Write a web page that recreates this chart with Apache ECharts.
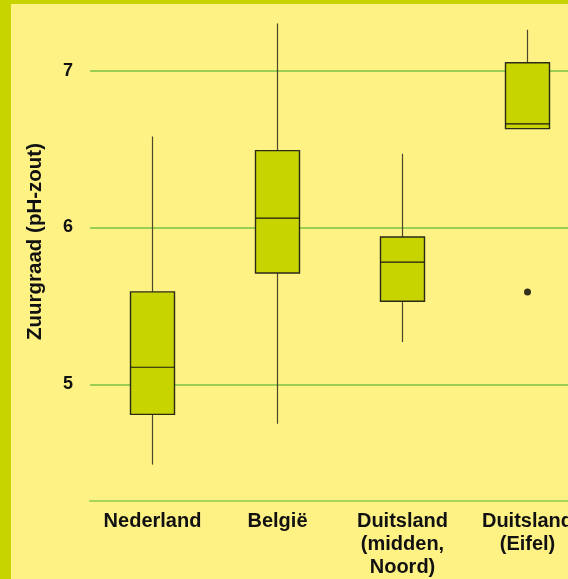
<!DOCTYPE html>
<html>
<head>
<meta charset="utf-8">
<script src="https://cdn.jsdelivr.net/npm/echarts@6/dist/echarts.min.js"></script>
<style>
  html, body { margin: 0; padding: 0; background: #fff285; }
  #chart { width: 568px; height: 579px; }
</style>
</head>
<body>
<div id="chart"></div>
<script>
// Soil acidity (pH-KCl) per region: whiskers, quartiles and median
const categories = ['Nederland', 'België', 'Duitsland\n(midden,\nNoord)', 'Duitsland\n(Eifel)'];
const whiskerLow  = [4.49, 4.75, 5.27, 6.63];
const quartile1   = [4.81, 5.71, 5.53, 6.63];
const medians     = [5.11, 6.06, 5.78, 6.66];
const quartile3   = [5.59, 6.49, 5.94, 7.05];
const whiskerHigh = [6.58, 7.30, 6.47, 7.26];
const outliers    = [[3, 5.59]];
const yTicks      = [5, 6, 7];
const yTitle      = 'Zuurgraad (pH-zout)';

const FONT = 'Liberation Sans, Arial, sans-serif';
const BOX_FILL = '#c8d400';

const boxData = categories.map((c, i) =>
  [i, whiskerLow[i], quartile1[i], medians[i], quartile3[i], whiskerHigh[i]]);

function renderBox(params, api) {
  const i = api.value(0);
  const pLow = api.coord([i, api.value(1)]);
  const pQ1 = api.coord([i, api.value(2)]);
  const pMed = api.coord([i, api.value(3)]);
  const pQ3 = api.coord([i, api.value(4)]);
  const pHigh = api.coord([i, api.value(5)]);
  const half = 22;
  const x = pQ1[0];
  const whisk = { stroke: '#4a4628', lineWidth: 1.2 };
  const children = [];
  if (pHigh[1] < pQ3[1]) {
    children.push({ type: 'line', shape: { x1: x, y1: pHigh[1], x2: x, y2: pQ3[1] }, style: whisk });
  }
  if (pLow[1] > pQ1[1]) {
    children.push({ type: 'line', shape: { x1: x, y1: pQ1[1], x2: x, y2: pLow[1] }, style: whisk });
  }
  children.push({
    type: 'rect',
    shape: { x: x - half, y: pQ3[1], width: half * 2, height: pQ1[1] - pQ3[1] },
    style: { fill: BOX_FILL, stroke: '#2a2a18', lineWidth: 1.4 }
  });
  children.push({
    type: 'line',
    shape: { x1: x - half, y1: pMed[1], x2: x + half, y2: pMed[1] },
    style: { stroke: '#1a1a10', lineWidth: 1.2 }
  });
  return { type: 'group', children };
}

const chart = echarts.init(document.getElementById('chart'), null, { renderer: 'canvas' });
chart.setOption({
  backgroundColor: '#fff285',
  animation: false,
  // the plot area runs past the right edge of the page, so the last column is cut off
  grid: { left: 90, width: 500, top: 4.6, bottom: 78.3, outerBoundsMode: 'none', containLabel: false },
  xAxis: {
    type: 'category',
    data: categories,
    axisLine: { show: true, lineStyle: { color: '#a6d35a', width: 2 } },
    axisTick: { show: false },
    splitLine: { show: false },
    axisLabel: {
      interval: 0,
      margin: 9,
      color: '#111',
      fontFamily: FONT,
      fontWeight: 'bold',
      fontSize: 20,
      lineHeight: 23,
      hideOverlap: false
    }
  },
  yAxis: {
    type: 'value',
    min: 4.26,
    max: 7.42,
    axisLine: { show: false },
    axisTick: { show: false },
    splitLine: { show: false },
    axisLabel: { show: false }
  },
  graphic: [
    { type: 'rect', left: 0, top: 0, shape: { width: 11, height: 579 }, style: { fill: '#c8d400' }, z: 100 },
    { type: 'rect', left: 0, top: 0, shape: { width: 568, height: 4 }, style: { fill: '#c8d400' }, z: 100 },
    {
      type: 'text',
      x: 35, y: 241.5,
      rotation: Math.PI / 2,
      style: {
        text: yTitle,
        fill: '#111',
        font: 'bold 20.5px ' + FONT,
        textAlign: 'center',
        textVerticalAlign: 'middle'
      }
    }
  ],
  series: [
    {
      type: 'custom',
      renderItem: renderBox,
      data: boxData,
      encode: { x: 0, y: [1, 2, 3, 4, 5] },
      z: 3
    },
    {
      type: 'scatter',
      data: outliers,
      symbol: 'circle',
      symbolSize: 7,
      itemStyle: { color: '#000' },
      z: 4,
      // horizontal reference lines at the whole pH values, labelled on the left
      markLine: {
        silent: true,
        symbol: ['none', 'none'],
        z: 1,
        lineStyle: { color: '#78c145', width: 1.5, type: 'solid' },
        label: {
          show: true,
          position: 'start',
          distance: 17,
          color: '#111',
          fontFamily: FONT,
          fontWeight: 'bold',
          fontSize: 18,
          formatter: p => String(p.value)
        },
        emphasis: { disabled: true },
        data: yTicks.map(v => ({ yAxis: v }))
      }
    }
  ]
});
</script>
</body>
</html>
